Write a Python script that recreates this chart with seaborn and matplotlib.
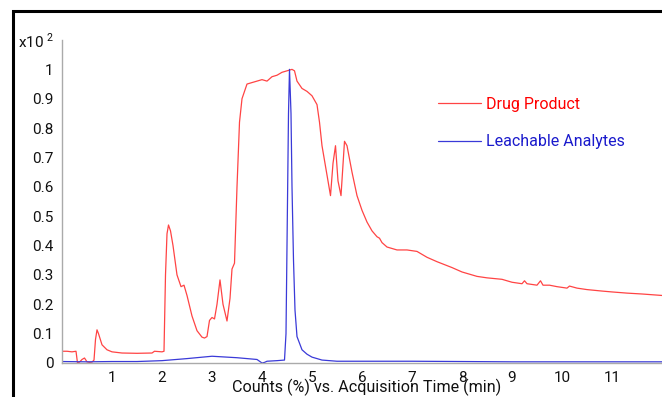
import numpy as np
import pandas as pd
import matplotlib
matplotlib.use('Agg')
import matplotlib.pyplot as plt
import seaborn as sns
from matplotlib.patches import Rectangle

# Drug Product trace (values x10^2 counts %)
drug_time = [0.0, 0.1, 0.2, 0.28, 0.31, 0.35, 0.4, 0.45, 0.5, 0.55, 0.6, 0.64, 0.67, 0.7, 0.73,
             0.8, 0.9, 1.0, 1.2, 1.5, 1.8, 1.85, 2.0, 2.04, 2.07, 2.1, 2.13, 2.17, 2.22, 2.3,
             2.38, 2.44, 2.5, 2.6, 2.7, 2.8, 2.85, 2.9, 2.95, 3.0, 3.05, 3.1, 3.16, 3.22,
             3.3, 3.36, 3.4, 3.45, 3.5, 3.55, 3.6, 3.7, 3.8, 3.9, 4.0, 4.1, 4.2, 4.3, 4.4,
             4.5, 4.6, 4.65, 4.7, 4.8, 4.9, 5.0, 5.1, 5.15, 5.2, 5.3, 5.37, 5.42, 5.47,
             5.52, 5.58, 5.65, 5.7, 5.8, 5.9, 6.0, 6.1, 6.2, 6.3, 6.35, 6.4, 6.5, 6.7,
             6.9, 7.1, 7.3, 7.5, 7.8, 8.0, 8.3, 8.5, 8.8, 9.0, 9.2, 9.25, 9.3, 9.5, 9.57,
             9.62, 9.75, 9.9, 10.1, 10.15, 10.3, 10.5, 10.8, 11.0, 11.3, 11.6, 12.0]
drug_value = [0.04, 0.04, 0.038, 0.04, 0.0, 0.003, 0.012, 0.017, 0.004, 0.002, 0.003, 0.01, 0.08, 0.113, 0.1,
              0.062, 0.045, 0.038, 0.034, 0.033, 0.034, 0.04, 0.038, 0.04, 0.3, 0.44, 0.47, 0.45, 0.4, 0.3,
              0.26, 0.265, 0.23, 0.16, 0.11, 0.088, 0.085, 0.09, 0.145, 0.155, 0.15, 0.2, 0.283, 0.2,
              0.143, 0.22, 0.32, 0.34, 0.6, 0.82, 0.9, 0.95, 0.955, 0.96, 0.965, 0.96, 0.975, 0.98, 0.99,
              0.995, 1.0, 0.995, 0.96, 0.935, 0.925, 0.91, 0.88, 0.82, 0.74, 0.64, 0.57, 0.68, 0.74,
              0.62, 0.57, 0.755, 0.74, 0.65, 0.57, 0.52, 0.48, 0.45, 0.43, 0.425, 0.41, 0.395, 0.385,
              0.385, 0.38, 0.36, 0.345, 0.325, 0.31, 0.295, 0.29, 0.285, 0.275, 0.27, 0.28, 0.27, 0.265, 0.28,
              0.265, 0.265, 0.26, 0.255, 0.262, 0.255, 0.25, 0.245, 0.242, 0.238, 0.235, 0.23]

# Leachable Analytes trace
leach_time = [0.0, 0.5, 1.0, 1.5, 2.0, 2.5, 3.0, 3.5, 3.9, 4.0, 4.05, 4.1, 4.3, 4.45, 4.48,
              4.5, 4.53, 4.55, 4.58, 4.6, 4.63, 4.66, 4.7, 4.8, 4.9, 5.0, 5.2, 5.5, 6.0, 7.0,
              8.0, 9.0, 10.0, 11.0, 12.0]
leach_value = [0.005, 0.004, 0.005, 0.005, 0.008, 0.015, 0.023, 0.018, 0.012, 0.0, 0.002, 0.006, 0.008, 0.01, 0.1,
               0.4, 0.85, 1.0, 0.85, 0.6, 0.35, 0.18, 0.09, 0.045, 0.03, 0.02, 0.01, 0.006, 0.006, 0.006,
               0.005, 0.004, 0.004, 0.004, 0.004]

x_ticks = list(range(1, 12))
y_ticks = [round(0.1 * i, 1) for i in range(12)]
y_tick_labels = ['0', '0.1', '0.2', '0.3', '0.4', '0.5', '0.6', '0.7', '0.8', '0.9', '1', 'x10$^{\\ 2}$']

drug = pd.DataFrame({'time': drug_time, 'value': drug_value})
leach = pd.DataFrame({'time': leach_time, 'value': leach_value})

sns.set_style('white')
plt.rcParams['font.family'] = ['Roboto', 'DejaVu Sans']
plt.rcParams['mathtext.fontset'] = 'custom'
plt.rcParams['mathtext.rm'] = 'Roboto'

fig = plt.figure(figsize=(6.62, 3.97), dpi=100)
ax = fig.add_axes([62 / 662, 34 / 397, 600 / 662, 323 / 397])

sns.lineplot(data=drug, x='time', y='value', ax=ax, color='#ff4444', lw=0.9, label='Drug Product')
sns.lineplot(data=leach, x='time', y='value', ax=ax, color='#3a3ad8', lw=0.9, label='Leachable Analytes')

ax.set_xlim(0, 12)
ax.set_ylim(0, 1.1)
ax.set_xticks(x_ticks)
ax.set_yticks(y_ticks)
ax.set_yticklabels(y_tick_labels)
ax.tick_params(axis='both', direction='out', length=4, width=0.8, color='#999999',
               labelsize=11, labelcolor='#111111', pad=2)
for s in ['top', 'right']:
    ax.spines[s].set_visible(False)
for s in ['left', 'bottom']:
    ax.spines[s].set_color('#aaaaaa')
    ax.spines[s].set_linewidth(1.0)

ax.set_ylabel('')
ax.set_xlabel('Counts (%) vs. Acquisition Time (min)', fontsize=11.6, color='#111111')
ax.xaxis.set_label_coords(0.508, -0.048)

leg = ax.legend(loc='upper left', bbox_to_anchor=(0.603, 0.868), frameon=False, fontsize=11.5,
                handlelength=2.7, handletextpad=0.3, labelspacing=1.4)
for text in leg.get_texts():
    text.set_color('#ff0000' if text.get_text() == 'Drug Product' else '#1a1acc')

# outer black frame
fig.patches.append(Rectangle((13 / 662, -0.1), 1.2, 1 - 11 / 397 + 0.1, transform=fig.transFigure,
                             fill=False, edgecolor='black', lw=2.2, zorder=10))

fig.savefig('out.png', dpi=100)
